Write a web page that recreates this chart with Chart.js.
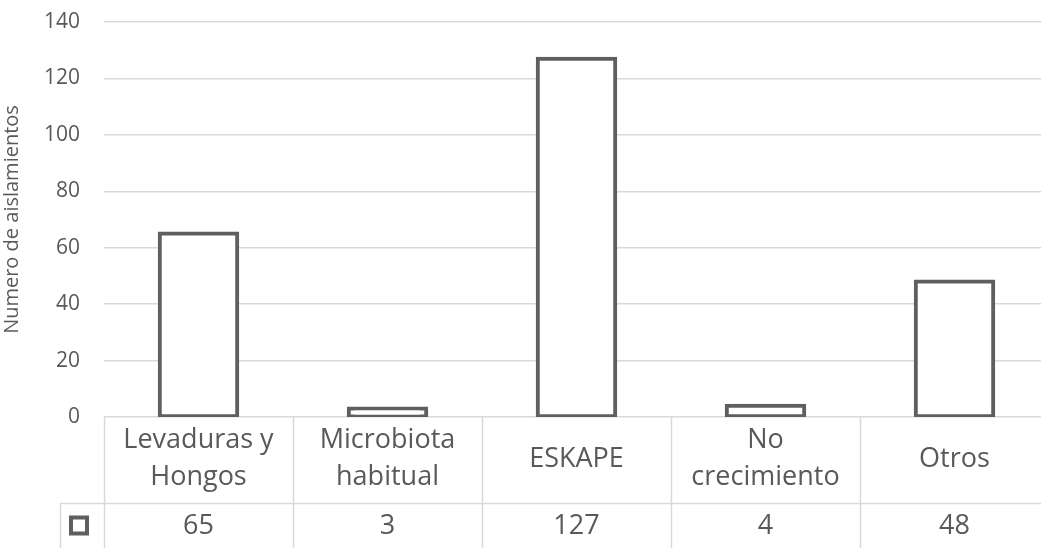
<!DOCTYPE html>
<html>
<head>
<meta charset="utf-8">
<script src="https://cdn.jsdelivr.net/npm/chart.js@4.4.1/dist/chart.umd.min.js"></script>
<style>
  html, body { margin: 0; padding: 0; background: #fff; overflow: hidden; }
  /* plot area runs slightly past the right edge of the window, as in the source image */
  #wrap { width: 1049px; height: 548px; }
</style>
</head>
<body>
<div id="wrap"><canvas id="chart"></canvas></div>
<script>
// Data
const categories = [['Levaduras y', 'Hongos'], ['Microbiota', 'habitual'], ['ESKAPE'], ['No', 'crecimiento'], ['Otros']];
const values = [65, 3, 127, 4, 48];
const yTicks = [0, 20, 40, 60, 80, 100, 120, 140];

const textColor = '#595959';
const lineColor = '#d9d9d9';
const barBorder = '#5f5f5f';
const fontFamily = '"Open Sans", "Liberation Sans", sans-serif';

// Draws the data table under the plot area (Excel style)
const dataTablePlugin = {
    id: 'dataTable',
    afterDraw(chart) {
        const { ctx, chartArea } = chart;
        const x = chart.scales.x;
        const top = chartArea.bottom;
        const rowSplit = top + 86;
        const bottom = chart.height;
        const keyLeft = 60;
        const n = categories.length;
        const step = (chartArea.right - chartArea.left) / n;

        ctx.save();
        ctx.strokeStyle = lineColor;
        ctx.lineWidth = 1.5;

        // vertical cell borders
        for (let i = 0; i < n; i++) {
            const bx = Math.round(chartArea.left + i * step) + 0.5;
            ctx.beginPath();
            ctx.moveTo(bx, top);
            ctx.lineTo(bx, bottom);
            ctx.stroke();
        }
        // row separator
        ctx.beginPath();
        ctx.moveTo(keyLeft, rowSplit + 0.5);
        ctx.lineTo(chartArea.right, rowSplit + 0.5);
        ctx.stroke();
        // key cell left border
        ctx.beginPath();
        ctx.moveTo(keyLeft + 0.5, rowSplit);
        ctx.lineTo(keyLeft + 0.5, bottom);
        ctx.stroke();

        // legend key
        const keyCx = 79;
        const keyCy = (rowSplit + bottom) / 2;
        ctx.fillStyle = '#fff';
        ctx.strokeStyle = barBorder;
        ctx.lineWidth = 4;
        ctx.fillRect(keyCx - 10, keyCy - 10, 20, 20);
        ctx.strokeRect(keyCx - 8, keyCy - 8, 16, 16);

        // text
        ctx.fillStyle = textColor;
        ctx.textAlign = 'center';
        ctx.textBaseline = 'middle';
        ctx.font = '27px ' + fontFamily;
        categories.forEach((lines, i) => {
            const cx = x.getPixelForValue(i);
            const cy = (top + rowSplit) / 2 - 1;
            const lh = 37;
            lines.forEach((line, j) => {
                ctx.fillText(line, cx, cy + (j - (lines.length - 1) / 2) * lh);
            });
            ctx.fillText(String(values[i]), cx, keyCy + 1);
        });
        ctx.restore();
    }
};

new Chart(document.getElementById('chart'), {
    type: 'bar',
    data: {
        labels: categories.map(l => l.join(' ')),
        datasets: [{
            label: 'Aislamientos',
            data: values,
            backgroundColor: '#ffffff',
            borderColor: barBorder,
            borderWidth: 4,
            borderSkipped: false,
            inflateAmount: 2,   // Excel strokes the outline centred on the bar edge
            categoryPercentage: 1,
            barPercentage: 0.41
        }]
    },
    options: {
        responsive: true,
        maintainAspectRatio: false,
        animation: false,
        layout: { padding: { top: 22, right: 0, bottom: 131, left: 0 } },
        scales: {
            x: { display: false },
            y: {
                min: 0,
                max: 140,
                afterBuildTicks: (s) => { s.ticks = yTicks.map(v => ({ value: v })); },
                afterFit: (s) => {
                    s.width = 104;
                    s.paddingTop = 0;
                    s.paddingBottom = 0;
                },
                border: { display: false },
                grid: { color: lineColor, lineWidth: 1.5, drawTicks: false },
                ticks: {
                    color: textColor,
                    padding: 24,
                    font: { family: fontFamily, size: 21 }
                },
                title: {
                    display: true,
                    text: 'Numero de aislamientos',
                    color: textColor,
                    font: { family: fontFamily, size: 20 },
                    padding: 0
                }
            }
        },
        plugins: {
            legend: { display: false },
            tooltip: { enabled: false }
        }
    },
    plugins: [dataTablePlugin]
});
</script>
</body>
</html>
